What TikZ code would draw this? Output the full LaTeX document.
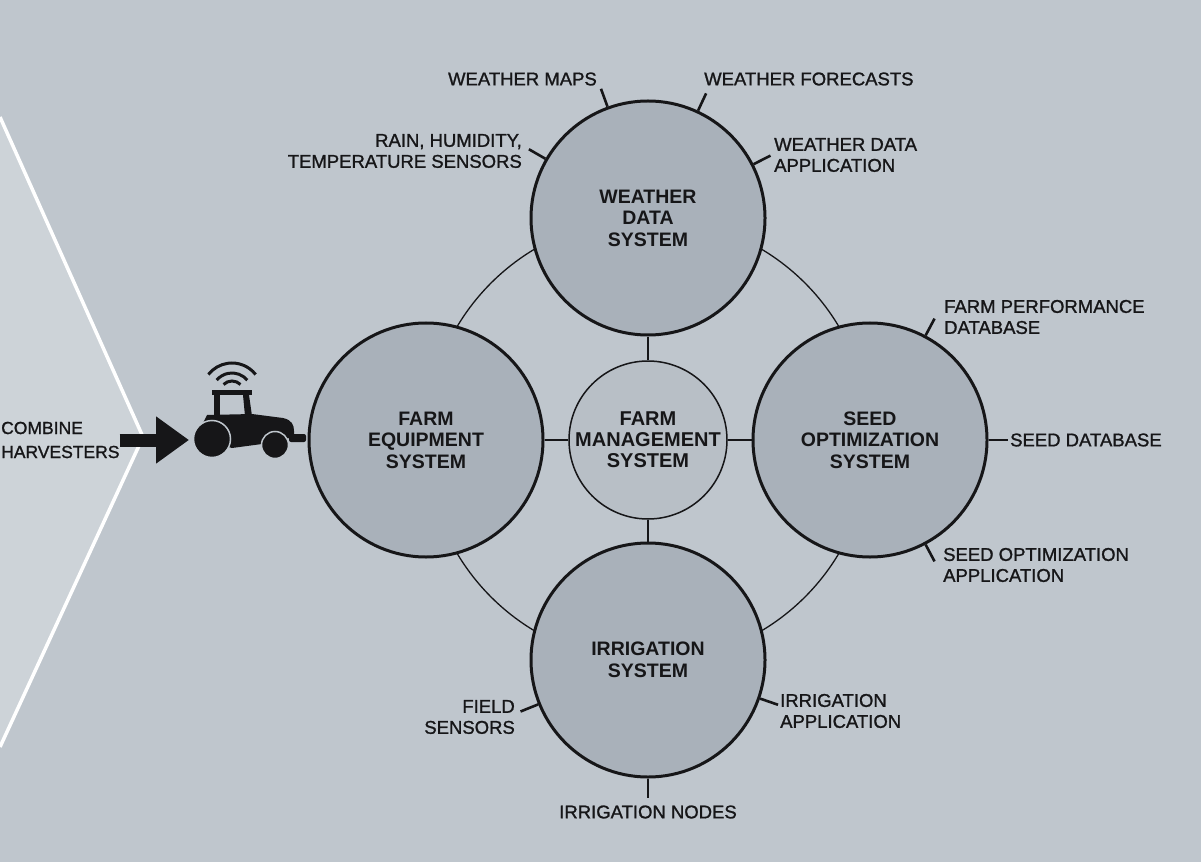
\documentclass[tikz,border=0pt]{standalone}
\usepackage{fontspec}
\setmainfont{Liberation Sans}
\newfontfamily\medfont[FakeBold=1.2]{Liberation Sans}
\usetikzlibrary{calc,arrows.meta}
\definecolor{bgcol}{RGB}{191,198,205}
\definecolor{panelcol}{RGB}{205,211,216}
\definecolor{syscol}{RGB}{169,177,186}
\definecolor{hubcol}{RGB}{184,191,198}
\definecolor{inkcol}{RGB}{22,22,24}
\def\wifiarc(#1)(#2:#3:#4){\draw[wave] ([shift={(#2:#4)}]#1) arc[start angle=#2,end angle=#3,radius=#4];}
\tikzset{
  sys/.style={circle, draw=inkcol, line width=3pt, fill=syscol, minimum size=234pt, inner sep=0pt,
    align=center, text=inkcol, font=\fontsize{19.5}{21.5}\selectfont\bfseries},
  hub/.style={circle, draw=inkcol, line width=1.5pt, fill=hubcol, minimum size=158pt, inner sep=0pt,
    align=center, text=inkcol, font=\fontsize{20}{21}\selectfont\bfseries},
  link/.style={draw=inkcol, line width=1.3pt},
  tick/.style={draw=inkcol, line width=2.6pt},
  lbl/.style={inner sep=0pt, text=inkcol, font=\medfont\fontsize{18.5}{21}\selectfont},
  wave/.style={draw=inkcol, line width=3pt},
  feed/.style={draw=inkcol, line width=13pt, -{Triangle[length=33pt,width=45pt]}},
}

\begin{document}
\begin{tikzpicture}[x=1pt,y=-1pt]
			%%%%% START %%%%%
			\useasboundingbox (0,0) rectangle (1201,866);
			\clip (0,0) rectangle (1201,866);
			\fill[bgcol] (0,0) rectangle (1201,866);
			
			% left panel
			\fill[panelcol] (0,117) -- (143,437) -- (0,747) -- cycle;
			\draw[white, line width=3.5pt] (0,117) -- (143,437) -- (0,747);
			\fill[white] (0,862) rectangle (1201,866);
			
			% ring behind the systems
			\draw[link] (648,440) circle[radius=222pt];
			
			% systems
			\node[sys] (wds) at (648,218) {WEATHER\\DATA\\SYSTEM};
			\node[sys] (fes) at (426,440) {FARM\\EQUIPMENT\\SYSTEM};
			\node[sys] (sos) at (870,440) {SEED\\OPTIMIZATION\\SYSTEM};
			\node[sys] (irs) at (648,660) {IRRIGATION\\SYSTEM};
			\node[hub] (fms) at (648,440) {FARM\\MANAGEMENT\\SYSTEM};
			
			\draw[link] (fms) -- (wds);
			\draw[link] (fms) -- (fes);
			\draw[link] (fms) -- (sos);
			\draw[link] (fms) -- (irs);
			
			% weather data
			\node[lbl, anchor=east] (wmaps) at (597,79) {WEATHER MAPS};
			\node[lbl, anchor=west] (wfc) at (704,79) {WEATHER FORECASTS};
			\node[lbl, anchor=east, align=right] (rain) at (522,151) {RAIN, HUMIDITY,\\TEMPERATURE SENSORS};
			\node[lbl, anchor=west, align=left] (wapp) at (774,155) {WEATHER DATA\\APPLICATION};
			\draw[tick] (wds.110) -- ($(wds.110)!-19pt!(wds.center)$);
			\draw[tick] (wds.65) -- ($(wds.65)!-19pt!(wds.center)$);
			\draw[tick] (wds.150) -- ($(wds.150)!-19pt!(wds.center)$);
			\draw[tick] (wds.27) -- ($(wds.27)!-19pt!(wds.center)$);
			
			% seed optimization
			\node[lbl, anchor=west, align=left] (fpd) at (944,317) {FARM PERFORMANCE\\DATABASE};
			\node[lbl, anchor=west] (sdb) at (1010,440) {SEED DATABASE};
			\node[lbl, anchor=west, align=left] (soa) at (943,565) {SEED OPTIMIZATION\\APPLICATION};
			\draw[tick] (sos.62) -- ($(sos.62)!-19pt!(sos.center)$);
			\draw[tick] (sos.0) -- ($(sos.0)!-19pt!(sos.center)$);
			\draw[tick] (sos.-62) -- ($(sos.-62)!-19pt!(sos.center)$);
			
			% irrigation
			\node[lbl, anchor=east, align=right] (field) at (515,717) {FIELD\\SENSORS};
			\node[lbl, anchor=west, align=left] (iapp) at (780,711) {IRRIGATION\\APPLICATION};
			\node[lbl] (inodes) at (648,812) {IRRIGATION NODES};
			\draw[tick] (irs.202) -- ($(irs.202)!-19pt!(irs.center)$);
			\draw[tick] (irs.-19) -- ($(irs.-19)!-19pt!(irs.center)$);
			\draw[tick] (irs.-90) -- ($(irs.-90)!-19pt!(irs.center)$);
			
			% combine harvesters
			\node[lbl, anchor=west, align=left, font=\medfont\fontsize{17.5}{24}\selectfont] (ch) at (1,440) {COMBINE\\HARVESTERS};
			\coordinate (trk) at (189,440);
			\draw[feed] (ch.east) -- (trk);
			
			% tractor
			\fill[inkcol] (212,390) rectangle (252,395);
			\fill[inkcol] (214,395) rectangle (220,416);
			\fill[inkcol] (243,395) -- (249,395) -- (252,416) -- (245,416) -- cycle;
			\fill[inkcol] (202,425) -- (207,415) -- (252,414) -- (283,418) .. controls (292,420) and (294,425) .. (294,431) -- (294,437) -- (262,444) -- (232,448) -- (205,440) -- cycle;
			\filldraw[fill=inkcol, draw=bgcol, line width=1.5pt] (212,439) circle[radius=18.5pt];
			\filldraw[fill=inkcol, draw=bgcol, line width=1.5pt] (275,445) circle[radius=13.5pt];
			\fill[inkcol, rounded corners=2pt] (289,434) rectangle (306,442);
			\wifiarc(232,393)(38:142:30pt)
			\wifiarc(232,393)(40:140:20pt)
			\wifiarc(232,393)(45:135:12pt)
			
			%%%%% END %%%%%
\end{tikzpicture}
\end{document}
